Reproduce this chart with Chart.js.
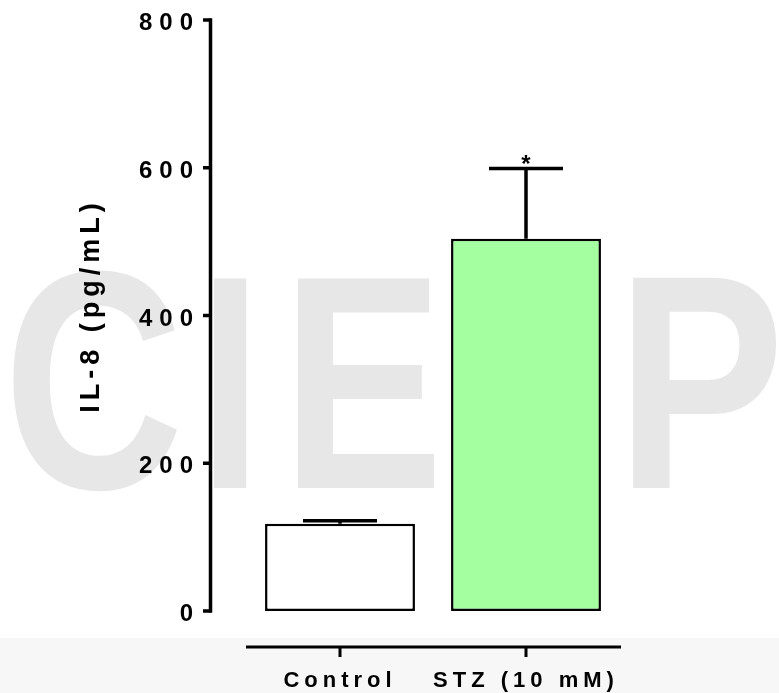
<!DOCTYPE html>
<html>
<head>
<meta charset="utf-8">
<script src="https://cdn.jsdelivr.net/npm/chart.js@4/dist/chart.umd.min.js"></script>
<style>
  html, body { margin: 0; padding: 0; background: #fff; }
  canvas { display: block; }
</style>
</head>
<body>
<canvas id="chart" width="779" height="693"></canvas>
<script>
// data
const groups = ['Control', 'STZ (10 mM)'];
const means = [118, 504];
const sems = [4, 95];
const marks = ['', '*'];
const yTicks = [0, 200, 400, 600, 800];
const fills = ['#ffffff', '#a3ff9f'];

const FONT = '"Liberation Sans", Arial, sans-serif';

// faint "CIEP" watermark behind the plot + grey strip at the bottom
const backdrop = {
    id: 'backdrop',
    afterLayout(chart) {
        // wider spacing for the y tick numbers
        const y = chart.scales.y;
        if (!y._spaced) {
            const orig = y.drawLabels;
            y.drawLabels = function(area) {
                this.ctx.letterSpacing = '7px';
                orig.call(this, area);
                this.ctx.letterSpacing = '5px';
            };
            y._spaced = true;
        }
    },
    beforeDraw(chart) {
        const ctx = chart.ctx;
        ctx.save();
        ctx.fillStyle = '#f7f7f7';
        ctx.fillRect(0, 638, chart.width, chart.height - 638);

        ctx.fillStyle = '#e7e7e7';
        ctx.font = 'bold 300px ' + FONT;
        ctx.textAlign = 'left';
        ctx.textBaseline = 'alphabetic';
        const letters = [
            { ch: 'C', left: 11, right: 179, top: 269, bottom: 493 },
            { ch: 'I', left: 213, right: 248, top: 274, bottom: 488 },
            { ch: 'E', left: 297, right: 437, top: 274, bottom: 488 },
            { ch: 'P', left: 632, right: 778, top: 273, bottom: 488 }
        ];
        letters.forEach(l => {
            const m = ctx.measureText(l.ch);
            const w = m.actualBoundingBoxLeft + m.actualBoundingBoxRight;
            const h = m.actualBoundingBoxAscent + m.actualBoundingBoxDescent;
            ctx.save();
            ctx.translate(l.left, l.top);
            ctx.scale((l.right - l.left) / w, (l.bottom - l.top) / h);
            ctx.fillText(l.ch, m.actualBoundingBoxLeft, m.actualBoundingBoxAscent);
            ctx.restore();
        });
        ctx.restore();
        ctx.letterSpacing = '5px';
    }
};

// prism-style detached axes, error bars, asterisk, y title
const extras = {
    id: 'extras',
    afterDraw(chart) {
        const ctx = chart.ctx;
        const x = chart.scales.x;
        const y = chart.scales.y;
        ctx.save();
        ctx.strokeStyle = '#000';
        ctx.fillStyle = '#000';
        ctx.lineCap = 'butt';

        // y axis
        const axX = 210.5;
        ctx.lineWidth = 3.5;
        ctx.beginPath();
        ctx.moveTo(axX, y.getPixelForValue(yTicks[yTicks.length - 1]) - 1.75);
        ctx.lineTo(axX, y.getPixelForValue(0) + 1.75);
        ctx.stroke();
        yTicks.forEach(v => {
            const py = y.getPixelForValue(v);
            ctx.beginPath();
            ctx.moveTo(203, py);
            ctx.lineTo(axX, py);
            ctx.stroke();
        });

        // x axis
        const axY = 647;
        ctx.lineWidth = 3;
        ctx.beginPath();
        ctx.moveTo(x.left - 1, axY);
        ctx.lineTo(x.right + 2, axY);
        ctx.stroke();
        groups.forEach((g, i) => {
            const px = x.getPixelForValue(i);
            ctx.beginPath();
            ctx.moveTo(px, axY);
            ctx.lineTo(px, axY + 10);
            ctx.stroke();
        });

        // error bars (mean + SEM)
        ctx.lineWidth = 3.5;
        means.forEach((m, i) => {
            const px = x.getPixelForValue(i);
            const yTop = y.getPixelForValue(m + sems[i]);
            const yBar = y.getPixelForValue(m);
            ctx.beginPath();
            ctx.moveTo(px, yBar);
            ctx.lineTo(px, yTop);
            ctx.moveTo(px - 37, yTop);
            ctx.lineTo(px + 37, yTop);
            ctx.stroke();
            if (marks[i]) {
                ctx.letterSpacing = '0px';
                ctx.font = 'bold 24px ' + FONT;
                ctx.textAlign = 'center';
                ctx.textBaseline = 'alphabetic';
                ctx.fillText(marks[i], px, yTop + 4);
            }
        });

        // y axis title
        ctx.letterSpacing = '5px';
        ctx.font = 'bold 27px ' + FONT;
        ctx.textAlign = 'center';
        ctx.textBaseline = 'middle';
        ctx.translate(92, 308);
        ctx.rotate(-Math.PI / 2);
        ctx.fillText('IL-8 (pg/mL)', 2.5, 0);
        ctx.restore();
    }
};

new Chart(document.getElementById('chart'), {
    type: 'bar',
    data: {
        labels: groups,
        datasets: [{
            data: means,
            backgroundColor: fills,
            borderColor: '#000',
            borderWidth: 2.5,
            borderSkipped: false,
            barPercentage: 0.806,
            categoryPercentage: 1
        }]
    },
    options: {
        responsive: false,
        animation: false,
        layout: { padding: { top: 20, right: 160, bottom: 0, left: 0 } },
        plugins: {
            legend: { display: false },
            tooltip: { enabled: false }
        },
        scales: {
            x: {
                type: 'category',
                offset: true,
                grid: { display: false, drawTicks: false },
                border: { display: false },
                ticks: {
                    color: '#000',
                    padding: 57,
                    font: { family: FONT, size: 22, weight: 'bold' }
                },
                afterFit(scale) {
                    scale.height = 82;
                    scale.paddingLeft = 0;
                    scale.paddingRight = 0;
                }
            },
            y: {
                min: 0,
                max: 800,
                grid: { display: false, drawTicks: false },
                border: { display: false },
                afterBuildTicks(scale) { scale.ticks = yTicks.map(v => ({ value: v })); },
                ticks: {
                    color: '#000',
                    padding: 47,
                    labelOffset: 3.5,
                    font: { family: FONT, size: 24, weight: 'bold' }
                },
                afterFit(scale) {
                    scale.width = 247;
                    scale.paddingTop = 0;
                    scale.paddingBottom = 0;
                }
            }
        }
    },
    plugins: [backdrop, extras]
});
</script>
</body>
</html>
